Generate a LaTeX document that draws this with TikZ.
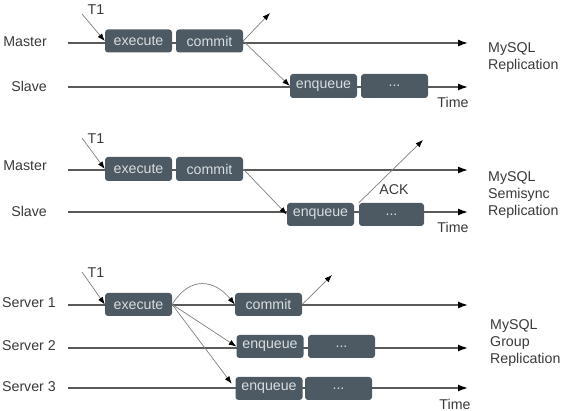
\documentclass[tikz,border=0pt]{standalone}
\usepackage{fontspec}
\setmainfont{Liberation Sans}
\usetikzlibrary{arrows.meta}
\definecolor{boxc}{HTML}{4D5A63}
\definecolor{boxt}{HTML}{D8DDE0}
\definecolor{linec}{HTML}{5A5A5A}
\definecolor{thinc}{HTML}{808080}
\definecolor{txtc}{HTML}{3A3A3A}
\tikzset{
  tbox/.style={fill=boxc, rounded corners=3pt, text=boxt, minimum width=67pt, minimum height=23pt, inner sep=0pt, font=\fontsize{14.2}{16}\selectfont},
  lbl/.style={text=txtc, inner sep=0pt, font=\fontsize{14.2}{16}\selectfont},
  side/.style={text=txtc, inner sep=0pt, align=left, anchor=west, font=\fontsize{14.2}{17}\selectfont},
  tline/.style={draw=linec, line width=1.4pt, -{Latex[length=10pt,width=7pt,color=black]}},
  arr/.style={draw=thinc, line width=0.7pt, -{Latex[length=7.5pt,width=5.5pt,color=black]}},
}
\begin{document}
\begin{tikzpicture}[x=1pt,y=-1pt]
\useasboundingbox (0,0) rectangle (571,411);
\fill[white] (0,0) rectangle (571,411);
% ---------- section 1 ----------
\coordinate (a1s) at (68,43); \coordinate (a1e) at (468,43);
\coordinate (b1s) at (68,87); \coordinate (b1e) at (468,87);
\draw[tline] (a1s) -- (a1e);
\draw[tline] (b1s) -- (b1e);
\node[lbl, anchor=east] (ma1) at (47,42) {Master};
\node[lbl, anchor=east] (sl1) at (47,86) {Slave};
\node[tbox] (ex1) at (138.5,41) {execute};
\node[tbox] (co1) at (209.5,41) {commit};
\node[tbox, minimum height=24pt] (en1) at (323.5,86) {enqueue};
\node[tbox, minimum height=24pt] (do1) at (394.5,86) {...};
\node[lbl] (t11) at (96,10) {T1};
\coordinate (t1a) at (82,14);
\coordinate (up1) at (270,13);
\draw[arr] (t1a) -- (ex1.west);
\draw[arr] (co1.east) -- (up1);
\draw[arr] (co1.east) -- (en1.west);
\node[lbl] (ti1) at (453,102) {Time};
\node[side] (rep1) at (488,58) {MySQL\\Replication};
% ---------- section 2 ----------
\coordinate (a2s) at (68,170); \coordinate (a2e) at (468,170);
\coordinate (b2s) at (68,212); \coordinate (b2e) at (468,212);
\draw[tline] (a2s) -- (a2e);
\draw[tline] (b2s) -- (b2e);
\node[lbl, anchor=east] (ma2) at (47,166) {Master};
\node[lbl, anchor=east] (sl2) at (47,211) {Slave};
\node[tbox, minimum height=24pt] (ex2) at (138.5,169) {execute};
\node[tbox, minimum height=24pt] (co2) at (209.5,169) {commit};
\node[tbox] (en2) at (320.5,214.5) {enqueue};
\node[tbox, minimum width=65pt] (do2) at (391.5,214.5) {...};
\node[lbl] (t12) at (96,139) {T1};
\coordinate (t2a) at (82,138);
\coordinate (up2) at (423,140);
\draw[arr] (t2a) -- (ex2.west);
\draw[arr] (co2.east) -- (en2.west);
\draw[arr] (do2.north west) -- (up2);
\node[lbl] (ack) at (394,190) {ACK};
\node[lbl] (ti2) at (453,227) {Time};
\node[side] (rep2) at (488,195) {MySQL\\Semisync\\Replication};
% ---------- section 3 ----------
\coordinate (a3s) at (68,305); \coordinate (a3e) at (468,305);
\coordinate (b3s) at (68,348); \coordinate (b3e) at (468,348);
\coordinate (c3s) at (68,388); \coordinate (c3e) at (468,388);
\draw[tline] (a3s) -- (a3e);
\draw[tline] (b3s) -- (b3e);
\draw[tline] (c3s) -- (c3e);
\node[lbl, anchor=east] (sv1) at (56,303) {Server 1};
\node[lbl, anchor=east] (sv2) at (56,346) {Server 2};
\node[lbl, anchor=east] (sv3) at (56,387) {Server 3};
\node[tbox] (ex3) at (138.5,304.5) {execute};
\node[tbox] (co3) at (268.5,304.5) {commit};
\node[tbox] (en3b) at (270,346.5) {enqueue};
\node[tbox] (do3b) at (341.5,346.5) {...};
\node[tbox] (en3c) at (269,388.5) {enqueue};
\node[tbox] (do3c) at (338.5,388.5) {...};
\node[lbl] (t13) at (96,273) {T1};
\coordinate (t3a) at (82,272);
\coordinate (up3) at (332,275);
\draw[arr] (t3a) -- (ex3.west);
\draw[arr] (ex3.east) .. controls (190,275) and (215,280) .. (co3.west);
\draw[arr] (ex3.east) -- (en3b.west);
\draw[arr, shorten >=6pt] (ex3.east) -- (en3c.west);
\draw[arr] (co3.east) -- (up3);
\node[lbl] (ti3) at (455,404) {Time};
\node[side] (rep3) at (490,343) {MySQL\\Group\\Replication};
\end{tikzpicture}
\end{document}
